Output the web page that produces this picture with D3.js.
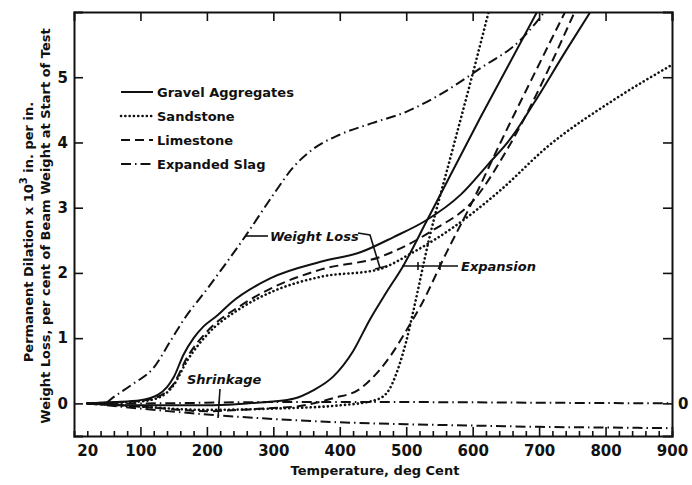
<!DOCTYPE html>
<html>
<head>
<meta charset="utf-8">
<script src="https://cdn.jsdelivr.net/npm/d3@7"></script>
<style>
  body { margin: 0; background: #fff; }
  text { font-family: "DejaVu Sans", sans-serif; font-weight: bold; fill: #111; }
</style>
</head>
<body>
<svg id="chart" width="692" height="485"></svg>
<script>
// Temperature axis labels and value ticks
const xTickLabels = [20, 100, 200, 300, 400, 500, 600, 700, 800, 900];
const xMinorTicks = d3.range(20, 901, 20);
const xTopTicks = [100, 200, 300, 400, 500, 600, 700, 800, 900];
const yTicks = [0, 1, 2, 3, 4, 5];

// Permanent dilation (expansion) curves: [temperature, value]
const gravelExpansion = [[20,0],[100,-0.03],[200,-0.03],[260,0],[300,0.03],[330,0.07],[360,0.2],[390,0.41],[420,0.8],[445,1.28],[470,1.7],[495,2.1],[530,2.78],[612,4.39],[700,6.06]];
const sandstoneExpansion = [[20,0],[100,-0.05],[200,-0.1],[300,-0.08],[400,-0.03],[450,0.04],[470,0.15],[490,0.6],[500,0.95],[511,1.43],[534,2.5],[570,3.9],[600,5.05],[626,6.08]];
const limestoneExpansion = [[20,0],[100,-0.05],[200,-0.12],[250,-0.1],[300,-0.07],[340,-0.04],[390,0.08],[430,0.22],[446,0.36],[475,0.71],[505,1.2],[522,1.5],[560,2.3],[600,3.1],[642,4.0],[700,5.2],[743,6.08]];
const slagExpansion = [[20,0],[100,0],[300,0.02],[500,0.02],[700,0.01],[900,0]];
const slagShrinkage = [[20,0],[100,-0.08],[200,-0.17],[300,-0.24],[400,-0.29],[500,-0.32],[600,-0.34],[700,-0.36],[800,-0.37],[900,-0.38]];

// Weight loss curves: [temperature, value]
const gravelWeightLoss = [[20,0],[60,0.02],[100,0.05],[126,0.13],[140,0.25],[150,0.4],[165,0.75],[180,1.0],[195,1.18],[216,1.35],[236,1.54],[296,1.92],[371,2.17],[432,2.32],[481,2.55],[529,2.8],[582,3.2],[622,3.65],[660,4.1],[692,4.6],[740,5.4],[782,6.08]];
const sandstoneWeightLoss = [[20,0],[100,0.03],[130,0.1],[150,0.28],[170,0.65],[200,1.05],[251,1.46],[300,1.72],[371,1.94],[457,2.05],[511,2.32],[571,2.7],[642,3.27],[712,3.93],[812,4.65],[900,5.19]];
const limestoneWeightLoss = [[20,0],[100,0.04],[130,0.12],[150,0.3],[170,0.7],[200,1.1],[251,1.5],[300,1.78],[371,2.05],[462,2.25],[541,2.66],[602,3.12],[654,3.93],[757,6.08]];
const slagWeightLoss = [[20,0],[45,0],[60,0.1],[86,0.28],[120,0.55],[146,0.97],[165,1.28],[200,1.75],[259,2.58],[300,3.2],[330,3.62],[360,3.9],[400,4.12],[450,4.3],[500,4.47],[550,4.73],[612,5.14],[672,5.57],[714,6.08]];

const legendLabels = ["Gravel Aggregates", "Sandstone", "Limestone", "Expanded Slag"];

const svg = d3.select("#chart");
const x = d3.scaleLinear().domain([0, 900]).range([74, 672]);
const y = d3.scaleLinear().domain([-0.5, 6.0]).range([436, 12]);

const styles = {
  solid:   { dash: null,          cap: "butt" },
  dotted:  { dash: "0.1,4.2",     cap: "round" },
  dashed:  { dash: "9,5",         cap: "butt" },
  dashdot: { dash: "10,4,1.5,4",  cap: "butt" }
};

svg.append("clipPath").attr("id", "plot-clip")
  .append("rect").attr("x", x(0)).attr("y", y(6)).attr("width", x(900) - x(0)).attr("height", y(-0.5) - y(6));

const line = d3.line().x(d => x(d[0])).y(d => y(d[1])).curve(d3.curveMonotoneX);

const curves = [
  [slagExpansion, "dashdot"],
  [slagShrinkage, "dashdot"],
  [gravelExpansion, "solid"],
  [sandstoneExpansion, "dotted"],
  [limestoneExpansion, "dashed"],
  [gravelWeightLoss, "solid"],
  [sandstoneWeightLoss, "dotted"],
  [limestoneWeightLoss, "dashed"],
  [slagWeightLoss, "dashdot"]
];

const plot = svg.append("g").attr("clip-path", "url(#plot-clip)");
curves.forEach(([data, kind]) => {
  const s = styles[kind];
  plot.append("path")
    .attr("d", line(data))
    .attr("fill", "none")
    .attr("stroke", "#111")
    .attr("stroke-width", kind === "dotted" ? 2.6 : 2)
    .attr("stroke-linecap", s.cap)
    .attr("stroke-dasharray", s.dash);
});

// Axes: frame with inward ticks on all sides
const labelFont = g => g.selectAll("text")
  .attr("font-size", 15).attr("font-family", "DejaVu Sans, sans-serif").attr("font-weight", "bold").attr("fill", "#111");

const axisG = svg.append("g");
const bottom = axisG.append("g").attr("transform", `translate(0,${y(-0.5)})`)
  .call(d3.axisBottom(x).tickValues(xMinorTicks).tickSize(-5).tickFormat(""));
bottom.selectAll(".tick line").filter(d => d % 100 === 0).attr("y2", -9);
const bottomLabels = axisG.append("g").attr("transform", `translate(0,${y(-0.5)})`)
  .call(d3.axisBottom(x).tickValues(xTickLabels).tickSize(0).tickPadding(9));
labelFont(bottomLabels);
bottomLabels.select(".domain").remove();

axisG.append("g").attr("transform", `translate(0,${y(6)})`)
  .call(d3.axisTop(x).tickValues(xTopTicks).tickSize(-9).tickFormat(""));

const left = axisG.append("g").attr("transform", `translate(${x(0)},0)`)
  .call(d3.axisLeft(y).tickValues(yTicks).tickSize(-9).tickPadding(6).tickFormat(d3.format("d")));
labelFont(left);

axisG.append("g").attr("transform", `translate(${x(900)},0)`)
  .call(d3.axisRight(y).tickValues(yTicks).tickSize(-9).tickFormat(""));

axisG.selectAll(".domain").attr("stroke", "#111").attr("stroke-width", 2);
axisG.selectAll(".tick line").attr("stroke", "#111").attr("stroke-width", 1.6);

// Right-hand zero label
svg.append("text").attr("x", x(900) + 6).attr("y", y(0)).attr("dy", "0.36em")
  .attr("font-size", 15).text("0");

// Axis titles
svg.append("text").attr("x", (x(0) + x(900)) / 2 + 2).attr("y", 475)
  .attr("text-anchor", "middle").attr("font-size", 13).text("Temperature, deg Cent");

const t1 = svg.append("text")
  .attr("transform", "translate(33,232) rotate(-90)")
  .attr("text-anchor", "middle").attr("font-size", 13);
t1.append("tspan").text("Permanent Dilation x 10");
t1.append("tspan").attr("dy", -6).attr("font-size", 10).text("3");
t1.append("tspan").attr("dy", 6).text(" in. per in.");
svg.append("text")
  .attr("transform", "translate(50,226) rotate(-90)")
  .attr("text-anchor", "middle").attr("font-size", 13)
  .text("Weight Loss, per cent of Beam Weight at Start of Test");

// Legend
const legendKinds = ["solid", "dotted", "dashed", "dashdot"];
const legendY = [92, 116, 140, 164];
legendLabels.forEach((label, i) => {
  const s = styles[legendKinds[i]];
  svg.append("line").attr("x1", 121).attr("x2", 153).attr("y1", legendY[i]).attr("y2", legendY[i])
    .attr("stroke", "#111").attr("stroke-width", legendKinds[i] === "dotted" ? 2.6 : 2)
    .attr("stroke-linecap", s.cap).attr("stroke-dasharray", s.dash);
  svg.append("text").attr("x", 157).attr("y", legendY[i]).attr("dy", "0.36em")
    .attr("font-size", 13).text(label);
});

// Annotations
const ann = svg.append("g").attr("stroke", "#111").attr("stroke-width", 1.6).attr("fill", "none");
// Weight Loss: leader to slag curve and bracket across the aggregate curves
ann.append("path").attr("d", "M245,236 L268,236");
ann.append("path").attr("d", "M358,233 L370,235 L380,268 M375,269 L387,266");
svg.append("text").attr("x", 270).attr("y", 241).attr("font-size", 13).attr("font-style", "italic").text("Weight Loss");
// Expansion
ann.append("path").attr("d", "M402,266 L458,266 M418,262 L418,270 M440,262 L440,270");
svg.append("text").attr("x", 461).attr("y", 271).attr("font-size", 13).attr("font-style", "italic").text("Expansion");
// Shrinkage
ann.append("path").attr("d", "M220,389 L218,418");
svg.append("text").attr("x", 187).attr("y", 384).attr("font-size", 13).attr("font-style", "italic").text("Shrinkage");
</script>
</body>
</html>
